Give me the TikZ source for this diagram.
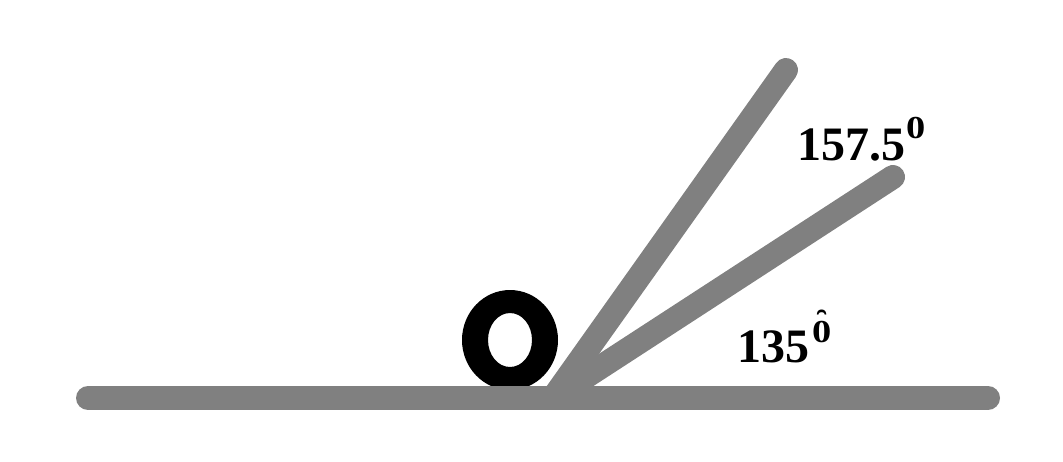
\documentclass[tikz,border=0pt]{standalone}
\usepackage{fontspec}
\setmainfont{Liberation Serif}
\definecolor{bargray}{RGB}{128,128,128}
\newcommand{\supzero}{\scalebox{1.2}[1]{0}}
\begin{document}
\begin{tikzpicture}[x=1pt,y=-1pt,
  bar/.style={draw=bargray, line width=24pt, line cap=round},
  lab/.style={inner sep=0pt, anchor=base west, font=\fontsize{48}{50}\selectfont\bfseries}]
\useasboundingbox (0,0) rectangle (1063,461);
\coordinate (O) at (553,398);
\coordinate (L) at (88,398);
\coordinate (R) at (988,398);
\coordinate (A) at (786,70);
\coordinate (B) at (893,177);
\fill[black, even odd rule] (510,340) ellipse [x radius=48, y radius=50] (510,340) ellipse [x radius=22, y radius=27];
\draw[bar] (O) -- (A);
\draw[bar] (O) -- (B);
\draw[bar] (L) -- (R);
\node[lab] (l1) at (797,160) {157.5\kern1pt\raisebox{22pt}{\fontsize{32}{32}\selectfont\supzero}};
\node[lab] (l2) at (737,362) {135\kern3pt\raisebox{20pt}{\fontsize{32}{32}\selectfont\ooalign{\supzero\cr\hidewidth\raisebox{50pt}{\scalebox{1}[-1]{\char"02D8}}\hidewidth}}};
\end{tikzpicture}
\end{document}
